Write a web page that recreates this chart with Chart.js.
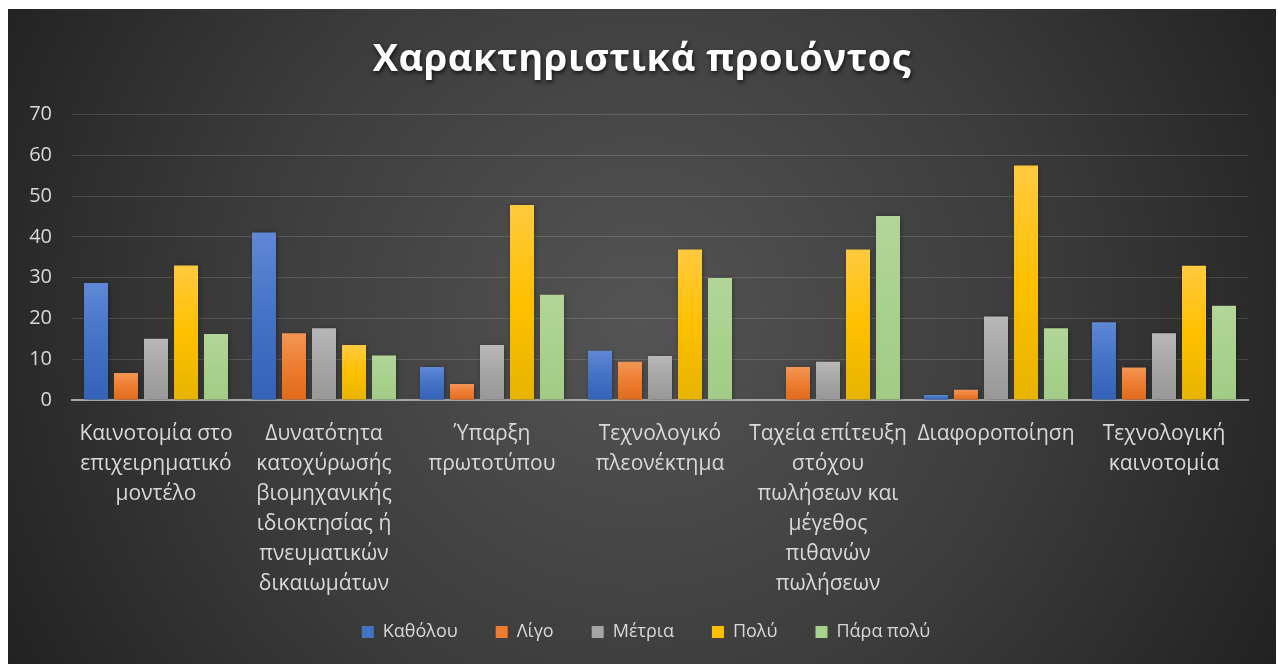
<!DOCTYPE html>
<html lang="el">
<head>
<meta charset="utf-8">
<title>Χαρακτηριστικά προιόντος</title>
<script src="https://cdn.jsdelivr.net/npm/chart.js@4.4.1/dist/chart.umd.min.js"></script>
<style>
  html, body { margin: 0; padding: 0; background: #ffffff; }
  #wrap { width: 1278px; height: 664px; }
</style>
</head>
<body>
<div id="wrap"><canvas id="featuresChart"></canvas></div>
<script>
const categories = [
  ["Καινοτομία στο", "επιχειρηματικό", "μοντέλο"],
  ["Δυνατότητα", "κατοχύρωσής", "βιομηχανικής", "ιδιοκτησίας ή", "πνευματικών", "δικαιωμάτων"],
  ["Ύπαρξη", "πρωτοτύπου"],
  ["Τεχνολογικό", "πλεονέκτημα"],
  ["Ταχεία επίτευξη", "στόχου", "πωλήσεων και", "μέγεθος", "πιθανών", "πωλήσεων"],
  ["Διαφοροποίηση"],
  ["Τεχνολογική", "καινοτομία"],
];

const seriesNames = ["Καθόλου", "Λίγο", "Μέτρια", "Πολύ", "Πάρα πολύ"];

const notAtAll = [28.7, 41.1, 8.1, 12.1, 0, 1.2, 19.1];
const little = [6.6, 16.4, 3.9, 9.4, 8.1, 2.5, 8.0];
const moderate = [15.0, 17.6, 13.5, 10.8, 9.4, 20.5, 16.4];
const much = [33.0, 13.5, 47.8, 36.9, 36.9, 57.5, 32.9];
const veryMuch = [16.2, 10.9, 25.8, 29.9, 45.1, 17.6, 23.1];

const yTicks = [0, 10, 20, 30, 40, 50, 60, 70];

// flat colour plus [top, middle, bottom] gradient stops for each series
const seriesColors = [
  { flat: "#4472c4", stops: ["#6088d6", "#4472c4", "#3562b8"] },
  { flat: "#ed7d31", stops: ["#f39555", "#ed7d31", "#e06a1b"] },
  { flat: "#a5a5a5", stops: ["#b8b8b8", "#a5a5a5", "#989898"] },
  { flat: "#ffc000", stops: ["#ffca3f", "#ffc000", "#e6b400"] },
  { flat: "#a9d18e", stops: ["#b1d698", "#a9d18e", "#a2cb86"] },
];

const FONT = "'Open Sans', 'Noto Sans', sans-serif";

function barGradient(index) {
  return function (context) {
    const chart = context.chart;
    const col = seriesColors[index];
    if (!chart.chartArea || context.raw === undefined) return col.flat;
    const y = chart.scales.y;
    const top = y.getPixelForValue(context.raw);
    const bottom = y.getPixelForValue(0);
    if (bottom - top < 2) return col.flat;
    const g = chart.ctx.createLinearGradient(0, top, 0, bottom);
    g.addColorStop(0, col.stops[0]);
    g.addColorStop(0.5, col.stops[1]);
    g.addColorStop(1, col.stops[2]);
    return g;
  };
}

// dark panel with a soft lighter centre, drawn behind everything
const panelBackground = {
  id: "panelBackground",
  beforeDraw(chart) {
    const ctx = chart.ctx;
    const w = chart.width, h = chart.height;
    ctx.save();
    ctx.fillStyle = "#ffffff";
    ctx.fillRect(0, 0, w, h);
    const g = ctx.createRadialGradient(640, 320, 0, 640, 320, 720);
    g.addColorStop(0, "#545454");
    g.addColorStop(0.55, "#3c3c3c");
    g.addColorStop(1, "#222222");
    ctx.fillStyle = g;
    ctx.fillRect(8, 9, w - 10, h - 9);
    ctx.restore();
  },
};

// wraps a layout box's draw so it can be nudged and styled
function wrapDraw(chart, box, dx, style) {
  if (!box || box._wrapped) return;
  const draw = box.draw;
  box.draw = function () {
    const ctx = chart.ctx;
    ctx.save();
    ctx.translate(dx, 0);
    if (style) style(ctx);
    draw.apply(this, arguments);
    ctx.restore();
  };
  box._wrapped = true;
}

// title and legend sit centred on the whole panel, not the plot
const boxStyle = {
  id: "boxStyle",
  beforeDraw(chart) {
    wrapDraw(chart, chart.titleBlock, 14, (ctx) => {
      ctx.letterSpacing = "0.6px";
      ctx.shadowColor = "rgba(0,0,0,0.75)";
      ctx.shadowBlur = 4;
      ctx.shadowOffsetX = 1;
      ctx.shadowOffsetY = 2;
    });
    wrapDraw(chart, chart.legend, 18, null);
  },
};

// faint drop shadow under the bars
const barShadow = {
  id: "barShadow",
  beforeDatasetsDraw(chart) {
    const ctx = chart.ctx;
    ctx.save();
    ctx.shadowColor = "rgba(0,0,0,0.45)";
    ctx.shadowBlur = 5;
    ctx.shadowOffsetX = 1;
    ctx.shadowOffsetY = 1;
  },
  afterDatasetsDraw(chart) {
    chart.ctx.restore();
  },
};

const seriesValues = [notAtAll, little, moderate, much, veryMuch];

function createChart(ctx) {
  return new Chart(ctx, {
    type: "bar",
    data: {
      labels: categories,
      datasets: seriesNames.map((name, i) => ({
        label: name,
        data: seriesValues[i],
        backgroundColor: barGradient(i),
        borderWidth: 0,
        barPercentage: 0.8,
        categoryPercentage: 0.893,
      })),
    },
    options: {
      responsive: false,
      animation: false,
      layout: {
        padding: { top: 9, left: 8, right: 30, bottom: 13 },
      },
      scales: {
        x: {
          grid: { display: false, drawTicks: false },
          border: { display: true, color: "#a6a6a6", width: 2 },
          ticks: {
            color: "#d9d9d9",
            padding: 19,
            maxRotation: 0,
            autoSkip: false,
            font: { family: FONT, size: 21, lineHeight: 30 / 21 },
          },
          afterFit(scale) {
            scale.height = 185;
            // long labels run a little past the axis box; don't clip them
            scale._computeLabelArea = () => undefined;
          },
        },
        y: {
          min: yTicks[0],
          max: yTicks[yTicks.length - 1],
          grid: { color: "rgba(255,255,255,0.14)", lineWidth: 1, drawTicks: false },
          border: { display: false },
          ticks: {
            stepSize: yTicks[1] - yTicks[0],
            color: "#d9d9d9",
            padding: 20,
            font: { family: FONT, size: 20 },
          },
          afterFit(scale) {
            scale.width = 64;
          },
        },
      },
      plugins: {
        title: {
          display: true,
          text: "Χαρακτηριστικά προιόντος",
          color: "#ffffff",
          font: { family: FONT, size: 38, weight: "bold" },
          padding: { top: 28, bottom: 32 },
        },
        legend: {
          position: "bottom",
          labels: {
            color: "#d9d9d9",
            boxWidth: 12,
            boxHeight: 12,
            padding: 38,
            font: { family: FONT, size: 18 },
            generateLabels(chart) {
              return Chart.defaults.plugins.legend.labels
                .generateLabels(chart)
                .map((item, i) => ({
                  ...item,
                  fillStyle: seriesColors[i].flat,
                  strokeStyle: seriesColors[i].flat,
                  lineWidth: 0,
                }));
            },
          },
        },
        tooltip: { enabled: false },
      },
    },
    plugins: [panelBackground, boxStyle, barShadow],
  });
}

const canvas = document.getElementById("featuresChart");
canvas.width = 1278;
canvas.height = 664;
const chart = createChart(canvas);
chart.draw();
</script>
</body>
</html>
